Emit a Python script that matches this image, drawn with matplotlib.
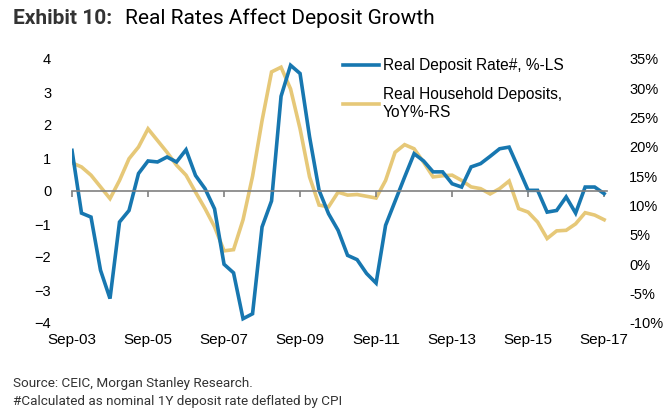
import numpy as np
import matplotlib
matplotlib.use("Agg")
from matplotlib import pyplot as plt
from matplotlib.ticker import FuncFormatter

# quarterly, Sep-03 .. Sep-17
real_rate = [1.23, -0.67, -0.79, -2.4, -3.26, -0.94, -0.59, 0.53, 0.91, 0.88,
             1.03, 0.88, 1.25, 0.47, 0.07, -0.54, -2.22, -2.48, -3.87, -3.72,
             -1.09, -0.3, 2.87, 3.81, 3.56, 1.64, 0.02, -0.69, -1.19, -1.95,
             -2.08, -2.5, -2.79, -1.04, -0.31, 0.42, 1.13, 0.91, 0.58, 0.58,
             0.22, 0.12, 0.73, 0.83, 1.05, 1.28, 1.33, 0.68, 0.02, 0.02,
             -0.64, -0.59, -0.18, -0.67, 0.12, 0.12, -0.08]
hh_deposits = [17.3, 16.6, 15.2, 13.2, 11.2, 14.3, 18.0, 20.0, 23.1, 21.1,
               19.1, 16.9, 15.2, 12.3, 9.5, 6.4, 2.3, 2.5, 7.6, 15.0,
               24.5, 32.8, 33.6, 29.9, 23.1, 14.9, 10.1, 9.8, 12.3, 11.8,
               11.9, 11.6, 11.3, 14.3, 19.1, 20.4, 19.7, 17.4, 14.9, 15.1,
               15.2, 14.3, 13.2, 12.9, 12.0, 12.9, 14.2, 9.5, 8.9, 7.2,
               4.4, 5.7, 5.8, 6.9, 8.8, 8.4, 7.6]
tick_labels = ["Sep-03", "Sep-05", "Sep-07", "Sep-09", "Sep-11", "Sep-13", "Sep-15", "Sep-17"]
left_ticks = [-4, -3, -2, -1, 0, 1, 2, 3, 4]
right_ticks = [-10, -5, 0, 5, 10, 15, 20, 25, 30, 35]

blue = "#1777b0"
gold = "#e6c878"
W, H = 667, 416

plt.rcParams["font.family"] = ["Liberation Sans", "DejaVu Sans"]
fig = plt.figure(figsize=(W / 100, H / 100), dpi=100)
ax = fig.add_axes([72 / W, (H - 323) / H, (607 - 72) / W, (323 - 59) / H])
ax2 = ax.twinx()

x = np.arange(len(real_rate))
ax2.plot(x, hh_deposits, color=gold, lw=2.6, solid_joinstyle="miter")
ax.plot(x, real_rate, color=blue, lw=2.6, solid_joinstyle="miter")
ax.set_zorder(ax2.get_zorder() + 1)
ax.patch.set_visible(False)

ax.set_xlim(0, 56.3)
ax.set_ylim(-4, 4)
ax2.set_ylim(-10, 35)
ax.set_yticks(left_ticks)
ax2.set_yticks(right_ticks)
ax2.yaxis.set_major_formatter(FuncFormatter(lambda v, p: "%d%%" % v))

for a in (ax, ax2):
    for s in a.spines.values():
        s.set_visible(False)
ax.spines["bottom"].set_visible(True)
ax.spines["bottom"].set_position(("data", 0))
ax.spines["bottom"].set_color("#808080")
ax.spines["bottom"].set_linewidth(1.2)
ax.set_xticks(np.arange(0, 57, 8))
ax.tick_params(axis="x", direction="out", length=4, color="#808080", width=1.2, labelbottom=False)
ax.tick_params(axis="y", length=0, pad=15, labelsize=10.5, labelcolor="black")
ax2.tick_params(axis="y", length=0, pad=16, labelsize=10.5, labelcolor="black")

sec = ax.secondary_xaxis(0)
sec.set_xticks(np.arange(0, 57, 8))
sec.set_xticklabels(tick_labels)
sec.tick_params(length=0, pad=7, labelsize=11)
sec.spines["bottom"].set_visible(False)

# legend
ax.legend(handles=[plt.Line2D([], [], color=blue, lw=2.6),
                   plt.Line2D([], [], color=gold, lw=2.6)],
          labels=["Real Deposit Rate#, %-LS", "Real Household Deposits,\nYoY%-RS"],
          loc="upper left", bbox_to_anchor=((329 - 72) / (607 - 72), 1.055),
          frameon=False, fontsize=11.2, handlelength=2.3, handletextpad=0.25,
          labelspacing=0.9)

fig.text(13 / W, 1 - 18 / H, "Exhibit 10:", fontsize=15, fontweight="bold",
         color="#333333", va="center", family=["Roboto", "DejaVu Sans"])
fig.text(125 / W, 1 - 18 / H, "Real Rates Affect Deposit Growth", fontsize=15,
         color="black", va="center", family=["Roboto", "DejaVu Sans"])
fig.text(13 / W, 1 - 384 / H, "Source: CEIC, Morgan Stanley Research.", fontsize=9.7,
         color="#333333", va="center", family=["Roboto", "DejaVu Sans"])
fig.text(13 / W, 1 - 401 / H, "#Calculated as nominal 1Y deposit rate deflated by CPI",
         fontsize=9.7, color="#333333", va="center", family=["Roboto", "DejaVu Sans"])

fig.savefig("out.png", dpi=100)
